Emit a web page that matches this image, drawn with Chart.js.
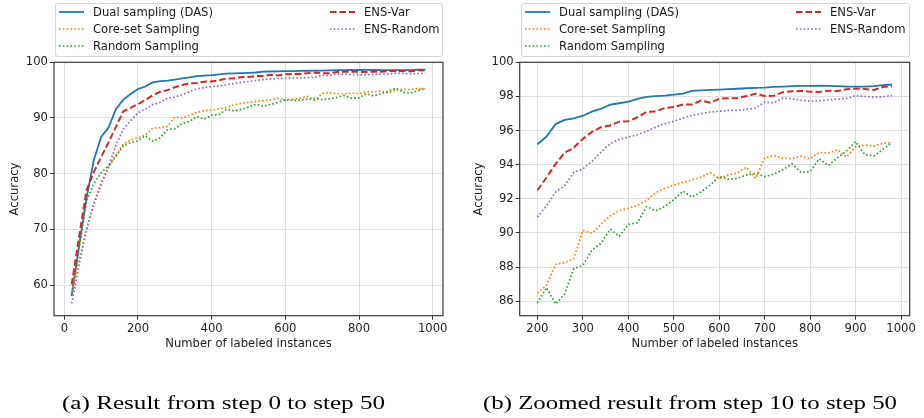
<!DOCTYPE html>
<html><head><meta charset="utf-8">
<script src="https://cdn.jsdelivr.net/npm/chart.js@4.4.1/dist/chart.umd.min.js"></script>
<style>
html,body{margin:0;padding:0;background:#fff;}
body{width:924px;height:418px;position:relative;overflow:hidden;font-family:"DejaVu Sans",sans-serif;}
.panel{position:absolute;top:0;width:462px;height:418px;}
.panel canvas{position:absolute;left:0;top:0;}
.legend{position:absolute;top:2.7px;height:54px;border:1px solid #d4d4d4;border-radius:3px;background:rgba(255,255,255,0.85);box-sizing:border-box;}
.item{position:absolute;height:16px;line-height:16px;font-size:11.6px;color:#1a1a1a;white-space:nowrap;}
.item svg{position:absolute;top:0;overflow:visible;}
.item span{position:absolute;top:0;}
.caption{position:absolute;top:392px;font-family:"Liberation Serif",serif;font-size:19.5px;white-space:nowrap;color:#000;transform-origin:left top;}
</style></head>
<body>
<div class="panel" id="pa" style="left:0"><canvas id="ca" width="462" height="418"></canvas></div>
<div class="panel" id="pb" style="left:462px"><canvas id="cb" width="462" height="418"></canvas></div>
<div class="caption" id="capA" data-center="223.5" data-width="323">(a) Result from step 0 to step 50</div>
<div class="caption" id="capB" data-center="690" data-width="414">(b) Zoomed result from step 10 to step 50</div>
<script>
// ---------- data ----------
const steps = [20,40,60,80,100,120,140,160,180,200,220,240,260,280,300,320,340,360,380,400,420,440,460,480,500,520,540,560,580,600,620,640,660,680,700,720,740,760,780,800,820,840,860,880,900,920,940,960,980];
const dasAcc = [58.0,67.0,75.5,82.4,86.6,88.3,91.6,93.3,94.3, 95.2,95.65,96.38,96.62,96.72,96.87,97.11,97.28,97.52,97.6, 97.7,97.85,97.98,98.02,98.05,98.1,98.17,98.32,98.35,98.38, 98.4,98.43,98.45,98.48,98.5,98.51,98.56,98.58,98.6,98.62, 98.62,98.63,98.62,98.6,98.58,98.57,98.58,98.6,98.66,98.7];
const coreSetAcc = [58.8,64.5,70.0,74.5,78.5,81.2,83.3,85.3,86.1, 86.47,86.95,88.15,88.27,88.5,90.15,89.98,90.52,91.0,91.3, 91.45,91.62,91.9,92.35,92.62,92.8,92.97,93.1,93.27,93.53, 93.2,93.4,93.52,93.86,93.2,94.4,94.53,94.38,94.35,94.5, 94.35,94.72,94.68,94.88,94.45,95.05,95.15,95.1,95.25,95.3];
const randomAcc = [58.4,66.5,75.0,78.2,80.2,81.4,83.1,85.0,85.6, 85.89,86.8,85.83,86.44,87.9,88.1,89.0,89.4,90.22,89.8, 90.5,90.6,91.55,91.3,91.55,91.95,92.45,92.1,92.4,92.8, 93.3,93.15,93.2,93.4,93.5,93.3,93.45,93.7,94.05,93.55, 93.6,94.35,93.95,94.4,94.8,95.35,94.6,94.5,94.9,95.3];
const ensVarAcc = [60.1,68.6,77.0,80.3,83.0,85.6,88.4,91.2,91.8, 92.5,93.25,94.05,94.7,95.0,95.52,95.92,96.2,96.3,96.52, 96.55,96.78,97.1,97.12,97.32,97.38,97.52,97.52,97.76,97.63, 97.86,97.9,97.9,98.02,98.16,98.02,98.04,98.25,98.3,98.32, 98.28,98.26,98.33,98.32,98.42,98.45,98.44,98.38,98.55,98.6];
const ensRandomAcc = [56.7,63.5,70.0,74.5,78.0,81.2,85.1,88.0,89.5, 90.92,91.6,92.4,92.78,93.55,93.75,94.2,94.74,95.23,95.48, 95.62,95.76,95.95,96.2,96.4,96.54,96.73,96.89,96.99,97.09, 97.13,97.18,97.18,97.24,97.32,97.67,97.63,97.9,97.87,97.78, 97.73,97.75,97.8,97.84,97.88,98.05,98.0,97.96,97.98,98.05];

const seriesNames = ['Dual sampling (DAS)','Core-set Sampling','Random Sampling','ENS-Var','ENS-Random'];
const seriesValues = [dasAcc, coreSetAcc, randomAcc, ensVarAcc, ensRandomAcc];

const xTicksA = [0,200,400,600,800,1000];
const yTicksA = [60,70,80,90,100];
const xTicksB = [200,300,400,500,600,700,800,900,1000];
const yTicksB = [86,88,90,92,94,96,98,100];
const zoomStart = 200; // panel (b) starts at step 10

// ---------- styles ----------
const colors = ['#1f77b4','#ff7f0e','#2ca02c','#d62728','#9467bd'];
const dashes = [[], [1.6,2.2], [1.6,2.2], [6.5,3], [1.6,2.2]];
const widths = [1.8, 1.7, 1.7, 2.0, 1.7];

const FONT = 'DejaVu Sans';
const FS = 11.6;
const frame = {
  id:'frame',
  afterDatasetsDraw(chart){
    const {ctx, chartArea:a} = chart;
    ctx.save();
    ctx.strokeStyle = '#3a3a3a';
    ctx.lineWidth = 1.2;
    ctx.strokeRect(a.left, a.top, a.right-a.left, a.bottom-a.top);
    ctx.restore();
  }
};

function makeChart(canvasId, xMin, xMax, yMin, yMax, xTicks, yTicks, from, pad, yWidth, yTitlePad){
  const datasets = seriesNames.map((name, k) => ({
    label: name,
    data: steps.map((x,i)=>({x:x, y:seriesValues[k][i]})).filter(p=>p.x>=from),
    borderColor: colors[k],
    backgroundColor: colors[k],
    borderWidth: widths[k],
    borderDash: dashes[k],
    borderCapStyle: 'butt',
    pointRadius: 0,
    tension: 0,
    fill: false,
    order: seriesNames.length - k
  }));
  return new Chart(document.getElementById(canvasId), {
    type:'line',
    data:{datasets},
    options:{
      responsive:false, animation:false, devicePixelRatio:1,
      layout:{padding:pad},
      plugins:{legend:{display:false}, tooltip:{enabled:false}},
      scales:{
        x:{
          type:'linear', min:xMin, max:xMax,
          afterBuildTicks(s){ s.ticks = xTicks.map(v=>({value:v})); },
          afterFit(s){ s.height = 40; },
          grid:{color:'#dedede', lineWidth:1, tickColor:'#333', tickLength:4, drawTicks:true},
          border:{display:false},
          ticks:{font:{family:FONT,size:FS}, color:'#222', padding:2.5, maxRotation:0, autoSkip:false, callback:v=>String(v)},
          title:{display:true, text:'Number of labeled instances', font:{family:FONT,size:FS}, color:'#222', padding:{top:0,bottom:4.4}}
        },
        y:{
          type:'linear', min:yMin, max:yMax,
          afterBuildTicks(s){ s.ticks = yTicks.map(v=>({value:v})); },
          afterFit(s){ s.width = yWidth; },
          grid:{color:'#dedede', lineWidth:1, tickColor:'#333', tickLength:4, drawTicks:true},
          border:{display:false},
          ticks:{font:{family:FONT,size:FS}, color:'#222', padding:2, autoSkip:false, callback:v=>String(v)},
          title:{display:true, text:'Accuracy', font:{family:FONT,size:FS}, color:'#222', padding:{top:yTitlePad,bottom:0}}
        }
      }
    },
    plugins:[frame]
  });
}

makeChart('ca', -28, 1028, 54.5, 100, xTicksA, yTicksA, 0,
  {left:0, right:19, top:62.3, bottom:62.3}, 54, 8.2);
makeChart('cb', 161, 1019, 85.15, 100, xTicksB, yTicksB, zoomStart,
  {left:0, right:14.3, top:62.3, bottom:62.3}, 57.7, 10.2);

// ---------- legends (HTML) ----------
function buildLegend(panelId, left, width){
  const lg = document.createElement('div');
  lg.className = 'legend';
  lg.style.left = left + 'px';
  lg.style.width = width + 'px';
  const slots = [[0,0],[0,1],[0,2],[1,0],[1,1]];
  const colX = [{s:3, e:28, t:37}, {s:274, e:299, t:308}];
  const rowY = [9, 26, 43];
  seriesNames.forEach((name,k)=>{
    const [c,r] = slots[k];
    const it = document.createElement('div');
    it.className = 'item';
    it.style.left = '0px';
    it.style.top = (rowY[r]-8-1) + 'px';
    const svgNS = 'http://www.w3.org/2000/svg';
    const svg = document.createElementNS(svgNS,'svg');
    svg.setAttribute('width', colX[c].e - colX[c].s);
    svg.setAttribute('height', 16);
    svg.style.left = colX[c].s + 'px';
    const ln = document.createElementNS(svgNS,'line');
    ln.setAttribute('x1',0); ln.setAttribute('x2',colX[c].e - colX[c].s);
    ln.setAttribute('y1',8); ln.setAttribute('y2',8);
    ln.setAttribute('stroke',colors[k]);
    ln.setAttribute('stroke-width',widths[k]);
    if (dashes[k].length) ln.setAttribute('stroke-dasharray', dashes[k].join(' '));
    svg.appendChild(ln);
    it.appendChild(svg);
    const sp = document.createElement('span');
    sp.textContent = name;
    sp.style.left = colX[c].t + 'px';
    it.appendChild(sp);
    lg.appendChild(it);
  });
  document.getElementById(panelId).appendChild(lg);
}
buildLegend('pa', 55, 388);
buildLegend('pb', 59, 388.7);

// ---------- captions ----------
document.querySelectorAll('.caption').forEach(el=>{
  const target = parseFloat(el.dataset.width);
  const w = el.getBoundingClientRect().width;
  const s = target / w;
  el.style.transform = 'scaleX(' + s + ')';
  el.style.left = (parseFloat(el.dataset.center) - target/2) + 'px';
});
</script>
</body></html>
